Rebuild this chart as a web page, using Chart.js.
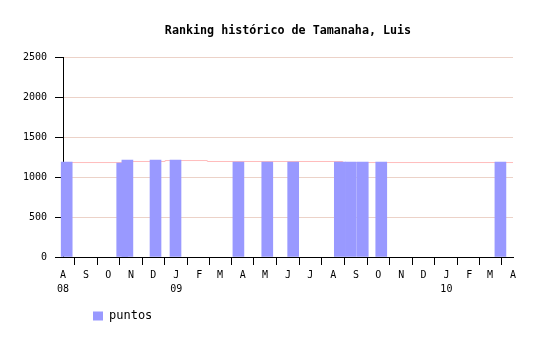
<!DOCTYPE html>
<html>
<head>
<meta charset="utf-8">
<script src="https://cdn.jsdelivr.net/npm/chart.js@4"></script>
<style>
  body { margin: 0; background: #fff; }
</style>
</head>
<body>
<canvas id="ranking" width="540" height="340"></canvas>
<script>
// month tick letters along the x axis, with the year under the first month of each year
const monthLetters = ['A', 'S', 'O', 'N', 'D', 'J', 'F', 'M', 'A', 'M', 'J', 'J', 'A', 'S', 'O', 'N', 'D', 'J', 'F', 'M', 'A'];
const yearMarks = ['08', '', '', '', '', '09', '', '', '', '', '', '', '', '', '', '', '', '10', '', '', ''];

// "puntos" bars (date of the match, points)
const barDates = ['2008-08-06', '2008-10-20', '2008-10-27', '2008-12-04', '2008-12-31', '2009-03-26', '2009-05-04',
                  '2009-06-08', '2009-08-10', '2009-08-25', '2009-09-10', '2009-10-05', '2010-03-15'];
const barValues = [1187, 1175, 1212, 1212, 1212, 1187, 1187, 1187, 1187, 1187, 1187, 1187, 1187];

// pink step line behind the bars
const lineDates = ['2008-08-01', '2008-10-20', '2008-12-17', '2009-02-12', '2009-08-14', '2010-04-01'];
const lineValues = [1181, 1194, 1206, 1194, 1181, 1181];

// x axis is in days counted from 1 Aug 2008
const start = Date.UTC(2008, 7, 1);
const toDay = s => (Date.parse(s) - start) / 86400000;
const monthDays = monthLetters.map((m, i) => (Date.UTC(2008, 7 + i, 1) - start) / 86400000);

// move the legend item right, under the plot like in the original
const legendNudge = {
    id: 'legendNudge',
    afterLayout(chart) {
        chart.legend.left += 16;
        chart.legend.right += 16;
    }
};

Chart.defaults.color = '#000';
Chart.defaults.font.family = '"DejaVu Sans Mono", monospace';
Chart.defaults.font.size = 10;

const ctx = document.getElementById('ranking').getContext('2d');
new Chart(ctx, {
    type: 'bar',
    data: {
        datasets: [
            {
                label: 'puntos',
                data: barDates.map((d, i) => ({ x: toDay(d), y: barValues[i] })),
                backgroundColor: '#9999ff',
                borderWidth: 0,
                barThickness: 11,
                clip: false,
                order: 1
            },
            {
                type: 'line',
                label: 'media',
                data: lineDates.map((d, i) => ({ x: toDay(d), y: lineValues[i] })),
                borderColor: '#ffbcbc',
                borderWidth: 1,
                pointRadius: 0,
                stepped: true,
                fill: false,
                order: 2
            }
        ]
    },
    options: {
        responsive: false,
        animation: false,
        layout: { padding: { left: 0, right: 27, top: 0, bottom: 8 } },
        plugins: {
            title: {
                display: true,
                text: 'Ranking histórico de Tamanaha, Luis',
                fullSize: false,
                font: { size: 11.7, weight: 'bold', lineHeight: 1.2 },
                padding: { top: 24, bottom: 19 }
            },
            legend: {
                position: 'bottom',
                align: 'start',
                fullSize: false,
                labels: {
                    boxWidth: 10,
                    boxHeight: 9,
                    padding: 14,
                    font: { size: 12 },
                    filter: item => item.datasetIndex === 0
                }
            },
            tooltip: { enabled: false }
        },
        scales: {
            x: {
                type: 'linear',
                offset: false,
                min: 0,
                max: monthDays[monthDays.length - 1],
                afterBuildTicks: scale => {
                    scale.ticks = monthDays.map(v => ({ value: v }));
                },
                afterFit: scale => { scale.height = 39; },
                ticks: {
                    autoSkip: false,
                    maxRotation: 0,
                    padding: 3,
                    font: { size: 10, lineHeight: 1.4 },
                    callback: (value, index) => yearMarks[index] ? [monthLetters[index], yearMarks[index]] : monthLetters[index]
                },
                grid: {
                    drawOnChartArea: false,
                    tickLength: 8,
                    tickColor: '#000'
                },
                border: { color: '#000', width: 1 }
            },
            y: {
                min: 0,
                max: 2500,
                afterFit: scale => { scale.width = 63; },
                ticks: {
                    stepSize: 500,
                    padding: 8,
                    callback: value => String(value)
                },
                grid: {
                    color: '#ecd2c8',
                    tickLength: 8,
                    tickColor: '#000'
                },
                border: { color: '#000', width: 1 }
            }
        }
    },
    plugins: [legendNudge]
});
</script>
</body>
</html>
